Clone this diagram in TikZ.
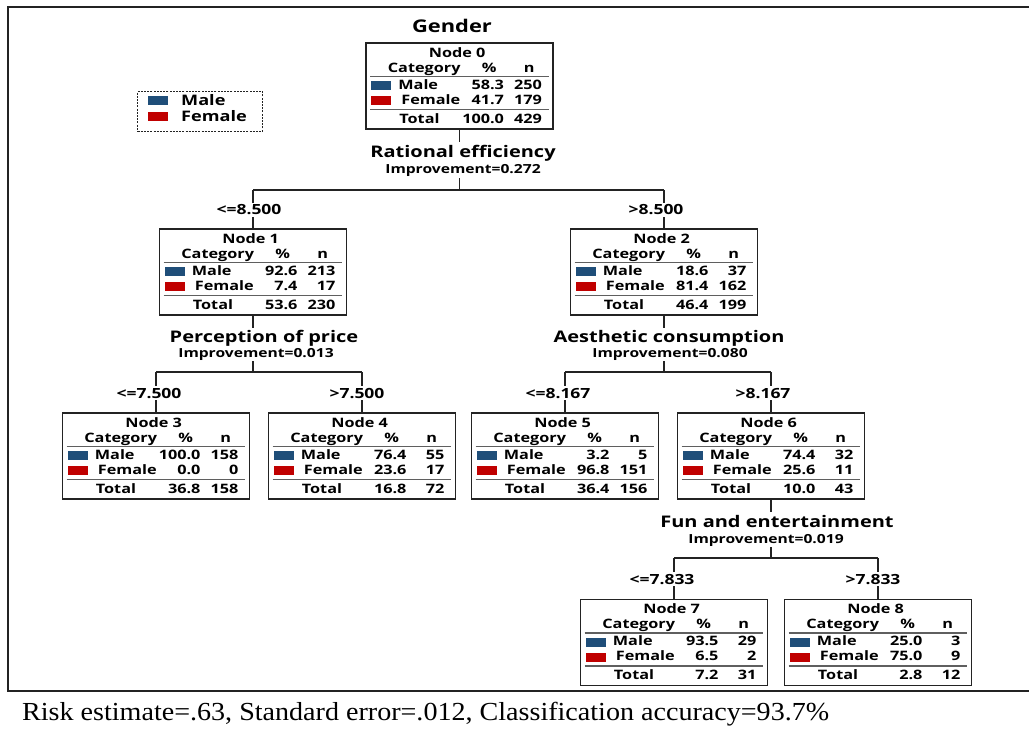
\documentclass[tikz,border=0pt]{standalone}
\usepackage{fontspec}
\setmainfont{Liberation Serif}
\newfontfamily\dfont[FakeStretch=1.25]{Open Sans}
\newfontfamily\capfont[FakeStretch=1.08]{Liberation Serif}
\usetikzlibrary{calc}
\definecolor{mblue}{RGB}{31,78,121}
\definecolor{fred}{RGB}{192,0,0}
\definecolor{ink}{RGB}{35,35,35}
\definecolor{rulec}{RGB}{95,95,95}
\tikzset{
  box/.style={draw=ink,line width=1.6pt,minimum width=187pt,minimum height=86pt,inner sep=0pt},
  conn/.style={draw=ink,line width=1.6pt},
  hrule/.style={draw=rulec,line width=1.5pt},
  cell/.style={font=\dfont\bfseries\fontsize{13}{15}\selectfont,inner sep=0pt},
  split/.style={font=\dfont\bfseries\fontsize{16}{18}\selectfont,inner sep=1pt,anchor=base},
  impr/.style={font=\dfont\bfseries\fontsize{12.5}{14}\selectfont,inner sep=1pt,anchor=base},
  branch/.style={font=\dfont\bfseries\fontsize{14}{16}\selectfont,inner xsep=1pt,inner ysep=2pt,anchor=base},
  swatch/.style={draw=none,inner sep=0pt,minimum width=20pt,minimum height=9pt},
  legtext/.style={font=\dfont\bfseries\fontsize{14.5}{16}\selectfont,inner sep=0pt,anchor=base west}
}
\newcommand\cartnode[9]{%
  \node[box] (#1) at #2 {};
  \node[cell,anchor=base] (#1h) at ($(#1.north west)+(92,15)$) {Node #3};
  \node[cell,anchor=base] (#1c) at ($(#1.north west)+(59,30)$) {Category};
  \node[cell,anchor=base] (#1p) at ($(#1.north west)+(124,30)$) {\%};
  \node[cell,anchor=base] (#1n) at ($(#1.north west)+(164,30)$) {n};
  \draw[hrule] ($(#1.north west)+(5,34.5)$) -- ($(#1.north east)+(-5,34.5)$);
  \node[swatch,fill=mblue,anchor=north west] (#1ms) at ($(#1.north west)+(6,39)$) {};
  \node[cell,anchor=base west] (#1m) at ($(#1.north west)+(33,47)$) {Male};
  \node[cell,anchor=base east] (#1mp) at ($(#1.north west)+(139,47)$) {#4};
  \node[cell,anchor=base east] (#1mn) at ($(#1.north west)+(177,47)$) {#5};
  \node[swatch,fill=fred,anchor=north west] (#1fs) at ($(#1.north west)+(6,54)$) {};
  \node[cell,anchor=base west] (#1f) at ($(#1.north west)+(36,62)$) {Female};
  \node[cell,anchor=base east] (#1fp) at ($(#1.north west)+(139,62)$) {#6};
  \node[cell,anchor=base east] (#1fn) at ($(#1.north west)+(177,62)$) {#7};
  \draw[hrule] ($(#1.north west)+(5,67.5)$) -- ($(#1.north east)+(-5,67.5)$);
  \node[cell,anchor=base west] (#1t) at ($(#1.north west)+(34,81)$) {Total};
  \node[cell,anchor=base east] (#1tp) at ($(#1.north west)+(139,81)$) {#8};
  \node[cell,anchor=base east] (#1tn) at ($(#1.north west)+(177,81)$) {#9};
}
\begin{document}
\begin{tikzpicture}[x=1pt,y=-1pt]
\useasboundingbox[fill=white] (0,0) rectangle (1029,730);
% outer frame (open on the right)
\draw[ink,line width=1.6pt] (1029,7) -- (8,7) -- (8,691) -- (1029,691);

% legend
\node[draw=ink,dash pattern=on 2pt off 1.2pt,line width=1pt,minimum width=125pt,minimum height=40pt,inner sep=0pt,anchor=north west] (leg) at (137,91) {};
\node[swatch,fill=mblue,anchor=north west] (legms) at (148,96) {};
\node[legtext] (legm) at (181,106) {Male};
\node[swatch,fill=fred,anchor=north west] (legfs) at (148,112) {};
\node[legtext] (legf) at (181,122) {Female};

% nodes
\node[split,font=\dfont\bfseries\fontsize{17.5}{19}\selectfont] (t0) at (452,33) {Gender};
\cartnode{n0}{(459.5,86)}{0}{58.3}{250}{41.7}{179}{100.0}{429}
\cartnode{n1}{(253,272)}{1}{92.6}{213}{7.4}{17}{53.6}{230}
\cartnode{n2}{(664,272)}{2}{18.6}{37}{81.4}{162}{46.4}{199}
\cartnode{n3}{(156,456)}{3}{100.0}{158}{0.0}{0}{36.8}{158}
\cartnode{n4}{(362,456)}{4}{76.4}{55}{23.6}{17}{16.8}{72}
\cartnode{n5}{(565,456)}{5}{3.2}{5}{96.8}{151}{36.4}{156}
\cartnode{n6}{(771,456)}{6}{74.4}{32}{25.6}{11}{10.0}{43}
\cartnode{n7}{(674,642.5)}{7}{93.5}{29}{6.5}{2}{7.2}{31}
\cartnode{n8}{(878,642.5)}{8}{25.0}{3}{75.0}{9}{2.8}{12}

% split labels
\node[split] (s0) at (463,158) {Rational efficiency};
\node[impr] (i0) at (463,174) {Improvement=0.272};
\node[split] (s1) at (264,342) {Perception of price};
\node[impr] (i1) at (256,357) {Improvement=0.013};
\node[split] (s2) at (669,342) {Aesthetic consumption};
\node[impr] (i2) at (670,357) {Improvement=0.080};
\node[split] (s6) at (777,527) {Fun and entertainment};
\node[impr] (i6) at (766,543) {Improvement=0.019};

% branch labels
\node[branch] (b1) at (249,215) {<=8.500};
\node[branch] (b2) at (656,215) {>8.500};
\node[branch] (b3) at (149,398) {<=7.500};
\node[branch] (b4) at (357,398) {>7.500};
\node[branch] (b5) at (558,398) {<=8.167};
\node[branch] (b6) at (763,398) {>8.167};
\node[branch] (b7) at (662,584) {<=7.833};
\node[branch] (b8) at (873,584) {>7.833};

% connectors
\coordinate (h0) at (n0.south |- 0,190);
\coordinate (h1) at (n1.south |- 0,372);
\coordinate (h2) at (n2.south |- 0,372);
\coordinate (h6) at (n6.south |- 0,558);
\draw[conn] (n0.south) -- ++(0,12);
\draw[conn] (i0.south -| n0.south) -- (h0);
\draw[conn] (n1.south) -- ++(0,12);
\draw[conn] (i1.south -| n1.south) -- (h1);
\draw[conn] (n2.south) -- ++(0,12);
\draw[conn] (i2.south -| n2.south) -- (h2);
\draw[conn] (n6.south) -- ++(0,12);
\draw[conn] (i6.south -| n6.south) -- (h6);

\draw[conn] (h0 -| n1.north) -- (h0 -| n2.north);
\draw[conn] (h1 -| n3.north) -- (h1 -| n4.north);
\draw[conn] (h2 -| n5.north) -- (h2 -| n6.north);
\draw[conn] (h6 -| n7.north) -- (h6 -| n8.north);

\foreach \h/\b/\n in {h0/b1/n1,h0/b2/n2,h1/b3/n3,h1/b4/n4,h2/b5/n5,h2/b6/n6,h6/b7/n7,h6/b8/n8}{
  \draw[conn] (\h -| \n.north) -- (\b.north -| \n.north);
  \draw[conn] (\b.south -| \n.north) -- (\n.north);
}

% caption
\node[anchor=base west,inner sep=0pt,font=\capfont\fontsize{26}{30}\selectfont] (cap) at (22,720) {Risk estimate=.63, Standard error=.012, Classification accuracy=93.7\%};
\end{tikzpicture}
\end{document}
